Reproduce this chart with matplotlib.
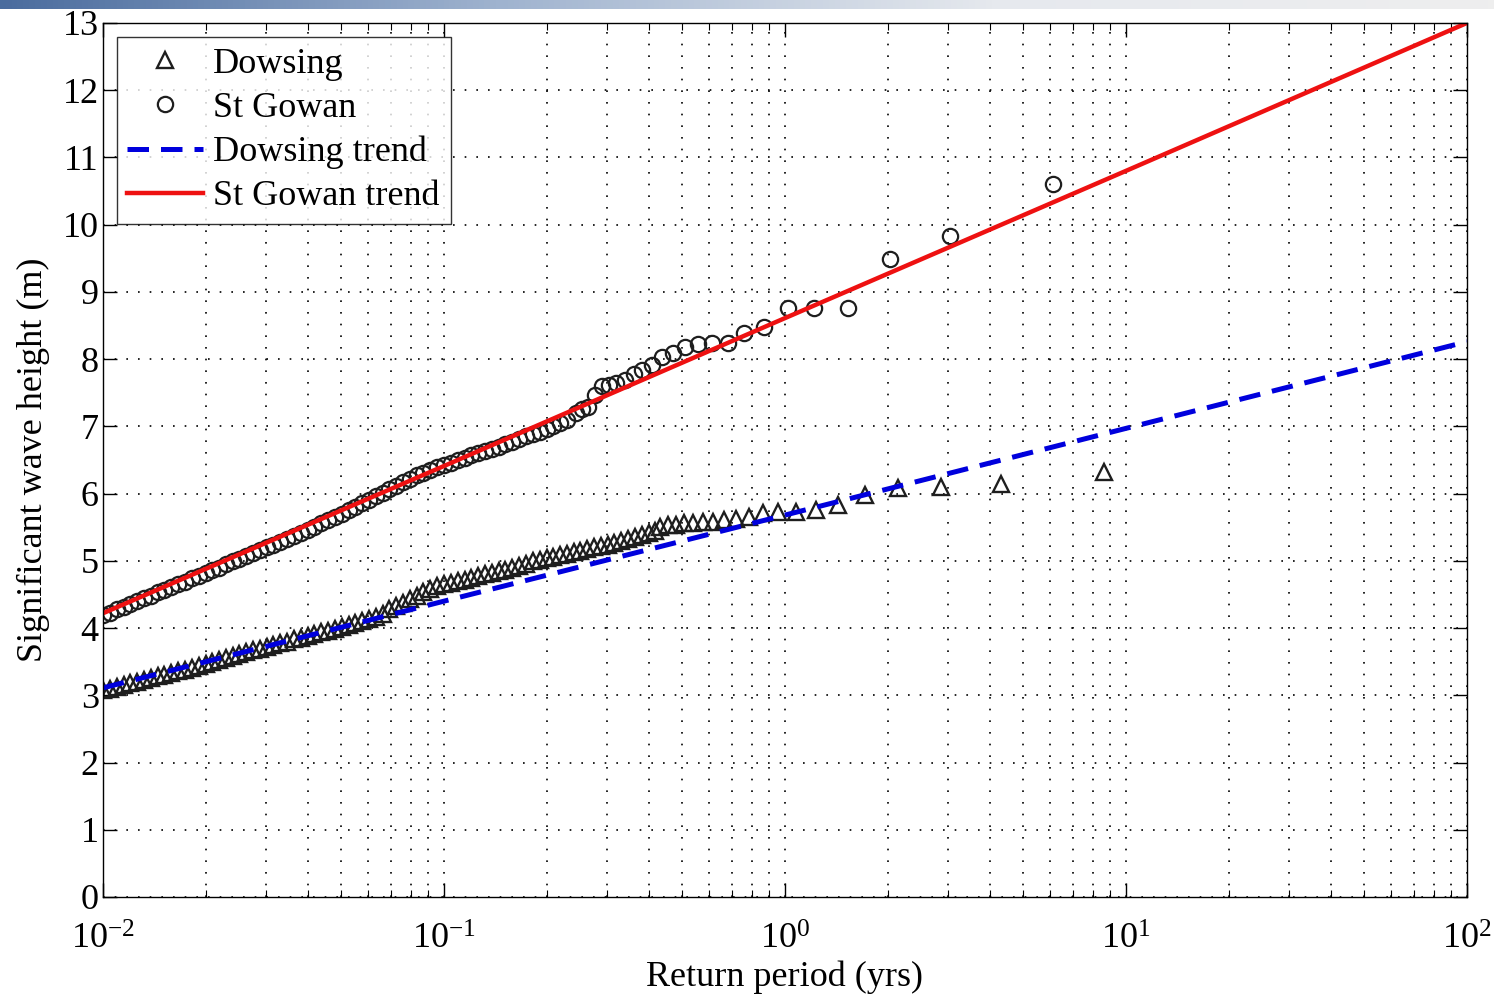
import numpy as np
import matplotlib
matplotlib.use("Agg")
import matplotlib.pyplot as plt
from matplotlib.ticker import LogLocator, NullFormatter

plt.rcParams['font.family'] = 'Liberation Serif'
plt.rcParams['mathtext.fontset'] = 'custom'
plt.rcParams['mathtext.rm'] = 'Liberation Serif'
plt.rcParams['mathtext.it'] = 'Liberation Serif:italic'

# return period (yrs) of the dense part of each sample
dense_x = [0.0100, 0.0105, 0.0110, 0.0115, 0.0120, 0.0126, 0.0132, 0.0138, 0.0145, 0.0151,
           0.0158, 0.0166, 0.0174, 0.0182, 0.0191, 0.0200, 0.0209, 0.0219, 0.0229, 0.0240,
           0.0251, 0.0263, 0.0275, 0.0288, 0.0302, 0.0316, 0.0331, 0.0347, 0.0363, 0.0380,
           0.0398, 0.0417, 0.0437, 0.0457, 0.0479, 0.0501, 0.0525, 0.0550, 0.0575, 0.0603,
           0.0631, 0.0661, 0.0692, 0.0724, 0.0759, 0.0794, 0.0832, 0.0871, 0.0912, 0.0955,
           0.100, 0.105, 0.110, 0.115, 0.120, 0.126, 0.132, 0.138, 0.145, 0.151,
           0.158, 0.166, 0.174, 0.182, 0.191, 0.200, 0.209, 0.219, 0.229]
dowsing_extra_x = [0.240, 0.251, 0.263, 0.275, 0.288, 0.302, 0.316, 0.331, 0.347, 0.363,
                   0.380, 0.398, 0.417]

# St Gowan
gowan_dense_y = [4.20, 4.23, 4.28, 4.32, 4.36, 4.40, 4.44, 4.48, 4.53, 4.57,
                 4.61, 4.65, 4.69, 4.74, 4.78, 4.82, 4.86, 4.90, 4.95, 4.99,
                 5.03, 5.07, 5.11, 5.16, 5.20, 5.24, 5.28, 5.33, 5.37, 5.42,
                 5.46, 5.51, 5.56, 5.60, 5.65, 5.70, 5.75, 5.80, 5.86, 5.91,
                 5.96, 6.01, 6.07, 6.12, 6.17, 6.22, 6.27, 6.31, 6.35, 6.39,
                 6.43, 6.46, 6.50, 6.53, 6.57, 6.60, 6.63, 6.67, 6.70, 6.74,
                 6.77, 6.81, 6.85, 6.88, 6.92, 6.96, 7.01, 7.05, 7.10]
gowan_tail_x = [0.244, 0.254, 0.265, 0.277, 0.29, 0.305, 0.32, 0.34, 0.36, 0.38,
                0.407, 0.436, 0.47, 0.51, 0.555, 0.61, 0.68, 0.76, 0.87, 1.02,
                1.22, 1.53, 2.03, 3.05, 6.11]
gowan_tail_y = [7.20, 7.26, 7.29, 7.47, 7.60, 7.62, 7.64, 7.69, 7.78, 7.84,
                7.91, 8.03, 8.09, 8.18, 8.22, 8.24, 8.24, 8.39, 8.48, 8.76,
                8.76, 8.76, 9.49, 9.83, 10.60]

# Dowsing
dowsing_dense_y = [3.08, 3.10, 3.13, 3.15, 3.18, 3.20, 3.23, 3.25, 3.28, 3.30,
                   3.33, 3.36, 3.38, 3.41, 3.43, 3.46, 3.49, 3.52, 3.55, 3.58,
                   3.61, 3.64, 3.67, 3.69, 3.72, 3.75, 3.78, 3.80, 3.83, 3.85,
                   3.88, 3.91, 3.94, 3.96, 3.99, 4.02, 4.05, 4.08, 4.10, 4.13,
                   4.16, 4.21, 4.28, 4.33, 4.38, 4.43, 4.48, 4.53, 4.58, 4.62,
                   4.65, 4.67, 4.70, 4.72, 4.75, 4.77, 4.80, 4.82, 4.85, 4.87,
                   4.90, 4.93, 4.96, 4.99, 5.01, 5.04, 5.06, 5.08, 5.10, 5.13,
                   5.15, 5.17, 5.20, 5.22, 5.24, 5.26, 5.29, 5.32, 5.35, 5.39,
                   5.42, 5.45]
dowsing_tail_x = [0.43, 0.453, 0.478, 0.506, 0.538, 0.574, 0.615, 0.662, 0.7175, 0.783,
                  0.861, 0.957, 1.076, 1.23, 1.435, 1.72, 2.15, 2.87, 4.3, 8.61]
dowsing_tail_y = [5.50, 5.53, 5.53, 5.56, 5.56, 5.58, 5.58, 5.61, 5.62, 5.65,
                  5.71, 5.73, 5.73, 5.76, 5.83, 5.98, 6.08, 6.10, 6.14, 6.32]

# trend lines read at each decade
trend_x = [0.01, 0.1, 1, 10, 100]
dowsing_trend = [3.11, 4.40, 5.68, 6.97, 8.26]
gowan_trend = [4.22, 6.41, 8.61, 10.80, 13.0]

fig = plt.figure(figsize=(14.94, 9.94), dpi=100)

# slide header strip
hdr = fig.add_axes([0, 0.991, 1, 0.009])
grad = np.linspace(0, 1, 256)[None, :]
hdr.imshow(grad, aspect='auto', cmap=matplotlib.colors.LinearSegmentedColormap.from_list(
    'h', ['#4a6c9e', '#9fb3cf', '#e6e9ee', '#eeeeee']), extent=[0, 1, 0, 1])
hdr.axis('off')

ax = fig.add_axes([0.0689, 0.0976, 0.913, 0.8793])

dx = dense_x + dowsing_extra_x
ax.plot(dx + dowsing_tail_x, dowsing_dense_y + dowsing_tail_y, linestyle='none',
        marker='^', markersize=11.5, markerfacecolor='none', markeredgecolor='#1e1e1e',
        markeredgewidth=1.7, label='Dowsing')
ax.plot(dense_x + gowan_tail_x, gowan_dense_y + gowan_tail_y, linestyle='none',
        marker='o', markersize=11, markerfacecolor='none', markeredgecolor='#1e1e1e',
        markeredgewidth=1.6, label='St Gowan')
ax.plot(trend_x, dowsing_trend, color='#0000dd', linestyle=(0, (4.3, 2.4)), linewidth=3.6,
        label='Dowsing trend')
ax.plot(trend_x, gowan_trend, color='#ee1111', linewidth=3.2, label='St Gowan trend')

ax.set_xscale('log')
ax.set_xlim(0.01, 100)
ax.set_ylim(0, 13)
ax.set_yticks(range(0, 14))
ax.xaxis.set_minor_locator(LogLocator(base=10, subs=np.arange(2, 10)))
ax.xaxis.set_minor_formatter(NullFormatter())

ax.grid(True, which='major', axis='both', linestyle=(0, (1, 6)), color='black', linewidth=1.2)
ax.grid(True, which='minor', axis='x', linestyle=(0, (1, 6)), color='black', linewidth=1.2)

ax.tick_params(which='both', direction='in', top=True, right=True, labelsize=26)
ax.tick_params(axis='x', which='major', pad=19)
ax.tick_params(axis='y', which='major', pad=3)
ax.tick_params(which='major', length=10, width=1.0)
ax.tick_params(which='minor', length=5, width=0.8)
for s in ax.spines.values():
    s.set_linewidth(1.0)

ax.set_xlabel('Return period (yrs)', fontsize=26, labelpad=3)
ax.set_ylabel('Significant wave height (m)', fontsize=26, labelpad=9)

leg = ax.legend(loc='upper left', fontsize=26, frameon=True, fancybox=False,
                edgecolor='black', borderaxespad=0.38, handlelength=2.1,
                labelspacing=0.3, borderpad=0.3, handletextpad=0.28)
leg.get_frame().set_linewidth(1.0)

fig.savefig('out.png', dpi=100)
